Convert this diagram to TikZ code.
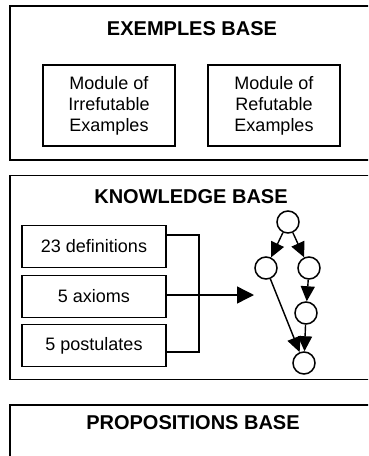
\documentclass[tikz,border=0pt]{standalone}
\usepackage{fontspec}
\setmainfont{Liberation Sans}
\usetikzlibrary{arrows.meta}
\begin{document}
\begin{tikzpicture}[x=1pt,y=-1pt,
  outer/.style={draw,line width=1.7pt,minimum width=#1,inner sep=0pt},
  title/.style={font=\fontsize{20}{22}\selectfont\bfseries},
  module/.style={draw,line width=1.6pt,minimum width=132pt,minimum height=81pt,inner sep=0pt,align=center,font=\fontsize{18}{21}\selectfont},
  item/.style={draw,line width=1.6pt,minimum width=144pt,minimum height=42pt,inner sep=0pt,font=\fontsize{18}{21}\selectfont},
  st/.style={draw,circle,line width=1.5pt,minimum size=22pt,inner sep=0pt},
  gar/.style={line width=1.4pt,-{Triangle[length=15pt,width=14pt]}},
  con/.style={line width=1.4pt}]
\useasboundingbox (0,0) rectangle (368,456);
\clip (0,0) rectangle (368,456);
% outer boxes
\node[outer=362pt,minimum height=154pt] (eb) at (191,83) {};
\node[outer=362pt,minimum height=204pt] (kb) at (191,277.5) {};
\node[outer=362pt,minimum height=70pt] (pb) at (191,440) {};
\node[title] (ebt) at (192,29) {EXEMPLES BASE};
\node[title] (kbt) at (191,197) {KNOWLEDGE BASE};
\node[title] (pbt) at (193,423) {PROPOSITIONS BASE};
% modules
\node[module] (irr) at (109,105.5) {Module of\\Irrefutable\\Examples};
\node[module] (ref) at (274,105.5) {Module of\\Refutable\\Examples};
% items
\node[item] (def) at (94,246.5) {23 definitions};
\node[item] (ax) at (94,296.5) {5 axioms};
\node[item] (pos) at (94,345.5) {5 postulates};
% bracket
\coordinate (bt) at (199,235);
\coordinate (bb) at (199,352);
\coordinate (bm) at (199,295);
\coordinate (tip) at (254,295);
\draw[con] (def.east |- bt) -- (bt) -- (bb) -- (pos.east |- bb);
\draw[con] (ax.east |- bm) -- (bm);
\draw[line width=1.4pt,-{Triangle[length=17pt,width=17pt]}] (bm) -- (tip);
% graph
\node[st] (n1) at (288,222) {};
\node[st] (n2) at (266,268) {};
\node[st] (n3) at (309,268) {};
\node[st] (n4) at (306,313) {};
\node[st] (n5) at (304,363) {};
\draw[gar] (n1) -- (n2);
\draw[gar] (n1) -- (n3);
\draw[gar] (n3) -- (n4);
\draw[gar] (n2) -- (n5);
\draw[gar] (n4) -- (n5);
\end{tikzpicture}
\end{document}
